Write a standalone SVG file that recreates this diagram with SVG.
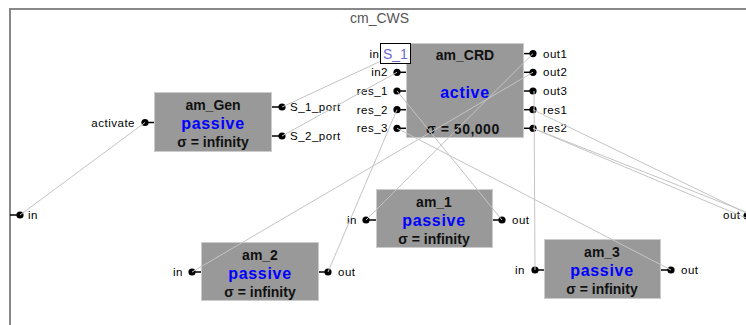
<svg xmlns="http://www.w3.org/2000/svg" width="746" height="325" viewBox="0 0 746 325">
  <style>
    text { font-family: "Liberation Sans", Arial, sans-serif; }
    .frame { fill: none; stroke: #888888; stroke-width: 2; }
    .title { font-size: 14px; fill: #555555; }
    .box { fill: #999999; stroke: #cccccc; stroke-width: 1; }
    .name { font-size: 14px; font-weight: bold; fill: #111111; text-anchor: middle; }
    .state { font-size: 16px; font-weight: bold; fill: #0000ff; text-anchor: middle; letter-spacing: 0.7px; }
    .sigma { font-size: 14px; font-weight: bold; fill: #111111; text-anchor: middle; }
    .stub { stroke: #000000; stroke-width: 1.5; }
    .dot { fill: #000000; }
    .lbl { font-size: 11.5px; fill: #000000; letter-spacing: 0.5px; }
    .lbl-r { font-size: 11.5px; fill: #000000; letter-spacing: 0.5px; text-anchor: end; }
    .link { stroke: #c4c4c4; stroke-width: 1; fill: none; }
    .tip { fill: #ffffff; stroke: #000000; stroke-width: 1; }
    .tiptext { font-size: 14px; fill: #6a6acc; }
  </style>

  <!-- coupled model frame -->
  <g id="cm_CWS">
    <path class="frame" d="M10,325 V9 H746"/>
    <text class="title" x="350" y="23">cm_CWS</text>
    <!-- outer input port -->
    <line class="stub" x1="10" y1="215" x2="19" y2="215"/>
    <circle class="dot" cx="20" cy="215" r="3.6"/>
    <text class="lbl" x="28" y="219">in</text>
    <!-- outer output port -->
    <text class="lbl" x="723" y="219">out</text>
    <circle class="dot" cx="747" cy="216" r="3.6"/>
  </g>

  <!-- generator -->
  <g id="am_Gen">
    <rect class="box" x="154.5" y="92.5" width="117" height="59"/>
    <text class="name" x="213" y="110">am_Gen</text>
    <text class="state" x="213" y="128.5">passive</text>
    <text class="sigma" x="213" y="147">σ = infinity</text>
    <line class="stub" x1="145" y1="122.5" x2="154" y2="122.5"/>
    <circle class="dot" cx="145" cy="122.5" r="3.6"/>
    <text class="lbl-r" x="135" y="126.5">activate</text>
    <line class="stub" x1="272" y1="107" x2="282" y2="107"/>
    <circle class="dot" cx="282" cy="107" r="3.6"/>
    <text class="lbl" x="290" y="111">S_1_port</text>
    <line class="stub" x1="272" y1="136" x2="282" y2="136"/>
    <circle class="dot" cx="282" cy="136" r="3.6"/>
    <text class="lbl" x="290" y="140">S_2_port</text>
  </g>

  <!-- coordinator -->
  <g id="am_CRD">
    <rect class="box" x="406.5" y="43.5" width="117" height="94"/>
    <text class="name" x="465" y="60">am_CRD</text>
    <text class="state" x="465" y="98">active</text>
    <text class="sigma" x="463" y="134" letter-spacing="0.5">σ = 50,000</text>
    <g class="ports-in">
      <line class="stub" x1="397" y1="53.6" x2="406" y2="53.6"/>
      <circle class="dot" cx="397" cy="53.6" r="3.6"/>
      <text class="lbl-r" x="379.5" y="57.6">in</text>
      <line class="stub" x1="397" y1="72.3" x2="406" y2="72.3"/>
      <circle class="dot" cx="397" cy="72.3" r="3.6"/>
      <text class="lbl-r" x="388" y="76.3">in2</text>
      <line class="stub" x1="397" y1="91" x2="406" y2="91"/>
      <circle class="dot" cx="397" cy="91" r="3.6"/>
      <text class="lbl-r" x="388" y="95">res_1</text>
      <line class="stub" x1="397" y1="109.7" x2="406" y2="109.7"/>
      <circle class="dot" cx="397" cy="109.7" r="3.6"/>
      <text class="lbl-r" x="388" y="113.7">res_2</text>
      <line class="stub" x1="397" y1="128.3" x2="406" y2="128.3"/>
      <circle class="dot" cx="397" cy="128.3" r="3.6"/>
      <text class="lbl-r" x="388" y="132.3">res_3</text>
    </g>
    <g class="ports-out">
      <line class="stub" x1="524" y1="53.6" x2="533" y2="53.6"/>
      <circle class="dot" cx="533" cy="53.6" r="3.6"/>
      <text class="lbl" x="543" y="57.6">out1</text>
      <line class="stub" x1="524" y1="72.3" x2="533" y2="72.3"/>
      <circle class="dot" cx="533" cy="72.3" r="3.6"/>
      <text class="lbl" x="543" y="76.3">out2</text>
      <line class="stub" x1="524" y1="91" x2="533" y2="91"/>
      <circle class="dot" cx="533" cy="91" r="3.6"/>
      <text class="lbl" x="543" y="95">out3</text>
      <line class="stub" x1="524" y1="109.7" x2="533" y2="109.7"/>
      <circle class="dot" cx="533" cy="109.7" r="3.6"/>
      <text class="lbl" x="543" y="113.7">res1</text>
      <line class="stub" x1="524" y1="128.3" x2="533" y2="128.3"/>
      <circle class="dot" cx="533" cy="128.3" r="3.6"/>
      <text class="lbl" x="543" y="132.3">res2</text>
    </g>
  </g>

  <!-- atomic workers -->
  <g id="am_1">
    <rect class="box" x="376.5" y="189.5" width="116" height="58"/>
    <text class="name" x="434" y="207">am_1</text>
    <text class="state" x="434" y="225.5">passive</text>
    <text class="sigma" x="434" y="244">σ = infinity</text>
    <line class="stub" x1="366" y1="220" x2="376" y2="220"/>
    <circle class="dot" cx="366" cy="220" r="3.6"/>
    <text class="lbl-r" x="357" y="224">in</text>
    <line class="stub" x1="493" y1="220" x2="502" y2="220"/>
    <circle class="dot" cx="502" cy="220" r="3.6"/>
    <text class="lbl" x="512" y="224">out</text>
  </g>

  <g id="am_2">
    <rect class="box" x="201.5" y="242.5" width="117" height="58"/>
    <text class="name" x="260" y="260">am_2</text>
    <text class="state" x="260" y="278.5">passive</text>
    <text class="sigma" x="260" y="297">σ = infinity</text>
    <line class="stub" x1="192" y1="272" x2="201" y2="272"/>
    <circle class="dot" cx="192" cy="272" r="3.6"/>
    <text class="lbl-r" x="183" y="276">in</text>
    <line class="stub" x1="319" y1="272" x2="328" y2="272"/>
    <circle class="dot" cx="328" cy="272" r="3.6"/>
    <text class="lbl" x="338" y="276">out</text>
  </g>

  <g id="am_3">
    <rect class="box" x="544.5" y="239.5" width="116" height="59"/>
    <text class="name" x="602" y="257">am_3</text>
    <text class="state" x="602" y="275.5">passive</text>
    <text class="sigma" x="602" y="294">σ = infinity</text>
    <line class="stub" x1="535" y1="270" x2="544" y2="270"/>
    <circle class="dot" cx="535" cy="270" r="3.6"/>
    <text class="lbl-r" x="525" y="274">in</text>
    <line class="stub" x1="661" y1="270" x2="671" y2="270"/>
    <circle class="dot" cx="671" cy="270" r="3.6"/>
    <text class="lbl" x="681" y="274">out</text>
  </g>

  <!-- couplings -->
  <g id="connectors">
    <line class="link" x1="20" y1="215" x2="145" y2="122.5"/>
    <line class="link" x1="282" y1="107" x2="397" y2="53.6"/>
    <line class="link" x1="282" y1="136" x2="397" y2="72.3"/>
    <line class="link" x1="533" y1="53.6" x2="366" y2="220"/>
    <line class="link" x1="533" y1="72.3" x2="192" y2="272"/>
    <line class="link" x1="534" y1="91" x2="535" y2="270"/>
    <line class="link" x1="502" y1="220" x2="397" y2="91"/>
    <line class="link" x1="328" y1="272" x2="397" y2="109.7"/>
    <line class="link" x1="671" y1="270" x2="397" y2="128.3"/>
    <line class="link" x1="533" y1="109.7" x2="746" y2="213"/>
    <line class="link" x1="533" y1="128.3" x2="746" y2="212"/>
    <line class="link" x1="533" y1="128.3" x2="746" y2="218"/>
  </g>

  <!-- hover tag over the coordinator input -->
  <g id="tag_S_1">
    <rect class="tip" x="380.5" y="43.5" width="30" height="20"/>
    <text class="tiptext" x="383" y="59">S_1</text>
  </g>
</svg>
